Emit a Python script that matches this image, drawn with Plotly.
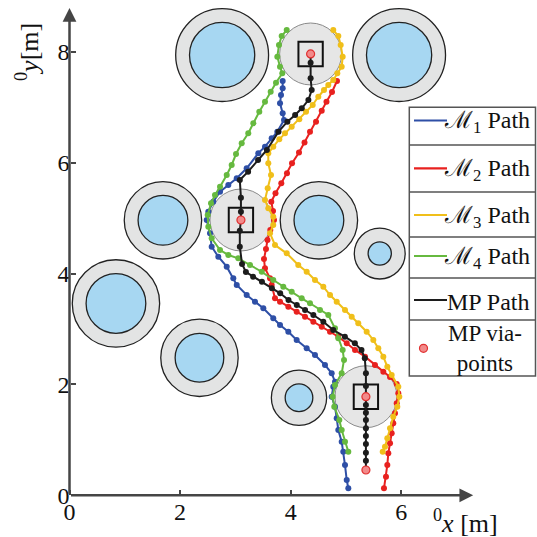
import plotly.graph_objects as go

# ---------------- data (metres) ----------------
obs_x = [2.76, 5.96, 1.69, 4.51, 5.61, 0.84, 2.35, 4.15]
obs_y = [7.94, 7.94, 4.96, 4.96, 4.36, 3.46, 2.48, 1.76]
obs_r_outer = [0.84, 0.84, 0.70, 0.70, 0.46, 0.79, 0.70, 0.50]
obs_r_inner = [0.59, 0.59, 0.45, 0.45, 0.21, 0.54, 0.44, 0.25]

via_x = [5.36, 5.36, 3.10, 4.36]
via_y = [0.456, 1.778, 4.965, 7.959]
via_region_r = 0.56
via_box_half = 0.22
via_boxed = [False, True, True, True]

m1_x = [3.855, 3.855, 3.825, 3.807, 3.855, 3.879, 3.758, 3.656, 3.535, 3.414, 3.204, 3.024, 2.872, 2.722,
        2.600, 2.510, 2.481, 2.541, 2.571, 2.691, 2.843, 2.962, 3.024, 3.204, 3.354, 3.505, 3.685, 3.807,
        3.957, 4.108, 4.289, 4.439, 4.620, 4.741, 4.801, 4.770, 4.741, 4.801, 4.832, 4.861, 4.922, 4.951,
        4.982, 5.013, 5.042]
m1_y = [7.472, 7.340, 7.219, 7.069, 6.889, 6.768, 6.557, 6.438, 6.287, 6.168, 5.897, 5.717, 5.596, 5.475,
        5.295, 5.115, 4.965, 4.725, 4.483, 4.303, 4.123, 3.913, 3.793, 3.612, 3.491, 3.372, 3.192, 3.071,
        2.950, 2.801, 2.651, 2.530, 2.350, 2.200, 2.049, 1.959, 1.778, 1.598, 1.389, 1.178, 0.967, 0.786,
        0.546, 0.276, 0.126]

m2_x = [4.837, 4.747, 4.647, 4.561, 4.458, 4.349, 4.250, 4.150, 4.024, 3.933, 3.830, 3.725, 3.649, 3.680,
        3.698, 3.631, 3.580, 3.553, 3.517, 3.535, 3.626, 3.656, 3.716, 3.807, 3.957, 4.108, 4.259, 4.409,
        4.561, 4.711, 4.861, 5.013, 5.163, 5.344, 5.524, 5.675, 5.796, 5.917, 5.946, 5.917, 5.886, 5.855,
        5.826, 5.796, 5.765, 5.747, 5.723, 5.687]
m2_y = [7.472, 7.273, 7.098, 6.936, 6.738, 6.557, 6.362, 6.182, 5.987, 5.807, 5.627, 5.446, 5.295, 5.127,
        4.965, 4.784, 4.604, 4.442, 4.261, 4.094, 3.913, 3.793, 3.553, 3.491, 3.401, 3.311, 3.221, 3.131,
        3.041, 2.950, 2.860, 2.741, 2.620, 2.500, 2.350, 2.229, 2.133, 2.007, 1.839, 1.659, 1.479, 1.298,
        1.118, 0.938, 0.757, 0.546, 0.335, 0.126]

m3_x = [4.770, 4.861, 4.904, 4.940, 4.922, 4.843, 4.770, 4.680, 4.602, 4.499, 4.398, 4.277, 4.156, 4.018,
        3.897, 3.794, 3.685, 3.595, 3.595, 3.644, 3.584, 3.535, 3.595, 3.685, 3.685, 3.626, 3.716, 3.928,
        4.137, 4.289, 4.439, 4.590, 4.711, 4.832, 4.982, 5.103, 5.222, 5.374, 5.494, 5.584, 5.675, 5.747,
        5.826, 5.946, 5.964, 5.928, 5.855, 5.796, 5.747, 5.705, 5.664]
m3_y = [8.391, 8.283, 8.121, 7.910, 7.730, 7.610, 7.490, 7.399, 7.309, 7.188, 7.039, 6.918, 6.781, 6.647,
        6.528, 6.420, 6.287, 6.168, 5.987, 5.776, 5.537, 5.326, 5.176, 5.024, 4.875, 4.725, 4.514, 4.364,
        4.153, 4.032, 3.883, 3.762, 3.612, 3.491, 3.342, 3.221, 3.102, 2.950, 2.801, 2.651, 2.500, 2.319,
        2.170, 1.959, 1.778, 1.598, 1.417, 1.208, 1.028, 0.876, 0.786]

m4_x = [3.928, 3.837, 3.788, 3.758, 3.807, 3.848, 3.734, 3.638, 3.535, 3.432, 3.324, 3.233, 3.114, 3.011,
        2.933, 2.843, 2.722, 2.631, 2.559, 2.499, 2.510, 2.571, 2.722, 2.872, 3.052, 3.264, 3.476, 3.685,
        3.866, 4.018, 4.199, 4.349, 4.530, 4.680, 4.801, 4.861, 4.940, 4.964, 4.922, 4.801, 4.759, 4.788,
        4.879, 4.922, 4.982, 5.042]
m4_y = [8.391, 8.283, 8.121, 7.910, 7.730, 7.610, 7.441, 7.279, 7.098, 6.918, 6.709, 6.528, 6.348, 6.155,
        5.957, 5.776, 5.565, 5.416, 5.266, 5.055, 4.844, 4.635, 4.424, 4.334, 4.274, 4.153, 4.032, 3.883,
        3.762, 3.672, 3.553, 3.463, 3.342, 3.252, 3.012, 2.831, 2.620, 2.440, 2.200, 1.989, 1.778, 1.598,
        1.358, 1.178, 0.967, 0.786]

mp_x = [5.36, 5.36, 5.36, 5.36, 5.36, 5.36, 5.36, 5.36, 5.36, 5.36, 5.36, 5.36, 5.34, 5.28, 5.16, 4.98,
        4.77, 4.59, 4.41, 4.26, 4.11, 3.96, 3.81, 3.66, 3.48, 3.32, 3.19, 3.12, 3.08, 3.08, 3.10, 3.10,
        3.10, 3.08, 3.23, 3.41, 3.57, 3.78, 3.94, 4.08, 4.20, 4.32, 4.38, 4.36, 4.36, 4.36]
mp_y = [0.456, 0.624, 0.768, 0.925, 1.069, 1.208, 1.358, 1.490, 1.628, 1.778, 1.971, 2.200, 2.471, 2.620,
        2.741, 2.860, 2.981, 3.131, 3.252, 3.342, 3.432, 3.522, 3.643, 3.733, 3.852, 3.942, 4.027, 4.171,
        4.483, 4.772, 4.965, 5.115, 5.367, 5.686, 5.836, 6.047, 6.227, 6.557, 6.738, 6.858, 6.979, 7.129,
        7.309, 7.520, 7.802, 7.959]

x_ticks = [0, 2, 4, 6]
y_ticks = [0, 2, 4, 6, 8]

legend_labels = ["ℳ<sub>1</sub> Path", "ℳ<sub>2</sub> Path", "ℳ<sub>3</sub> Path",
                 "ℳ<sub>4</sub> Path", "MP Path", "MP via-<br>points"]

# ---------------- styling ----------------
W = H = 537
X0_PX, Y0_PX = 69.5, 495.3      # pixel position of the origin
SX, SY = 55.3, 55.45            # pixels per metre
SERIF = "Liberation Serif"
AXIS_COL = "#454545"
C_BLUE, C_RED, C_YEL, C_GRN, C_BLK = "#2e4fa6", "#e8211f", "#f0bf1a", "#66b93f", "#1c1c1c"
C_VIA_FILL, C_VIA_LINE = "#f28a8a", "#e03030"
C_OUT, C_IN = "#e3e4e4", "#a7d7f2"

fig = go.Figure()

def path_trace(xs, ys, color, name):
    return go.Scatter(x=xs, y=ys, mode="lines+markers", name=name,
                      line=dict(color=color, width=2),
                      marker=dict(color=color, size=6), showlegend=False,
                      hoverinfo="skip")

fig.add_trace(path_trace(m1_x, m1_y, C_BLUE, "M1"))
fig.add_trace(path_trace(m2_x, m2_y, C_RED, "M2"))
fig.add_trace(path_trace(m3_x, m3_y, C_YEL, "M3"))
fig.add_trace(path_trace(m4_x, m4_y, C_GRN, "M4"))
fig.add_trace(path_trace(mp_x, mp_y, C_BLK, "MP"))
fig.add_trace(go.Scatter(x=via_x, y=via_y, mode="markers", showlegend=False, hoverinfo="skip",
                         marker=dict(size=8, color=C_VIA_FILL,
                                     line=dict(color=C_VIA_LINE, width=1.2))))

shapes = []
ky = SX / SY  # keep circles round in pixels
for cx, cy, ro, ri in zip(obs_x, obs_y, obs_r_outer, obs_r_inner):
    shapes.append(dict(type="circle", xref="x", yref="y", layer="below",
                       x0=cx - ro, x1=cx + ro, y0=cy - ro * ky, y1=cy + ro * ky,
                       fillcolor=C_OUT, line=dict(color="#222", width=1.3)))
    shapes.append(dict(type="circle", xref="x", yref="y", layer="below",
                       x0=cx - ri, x1=cx + ri, y0=cy - ri * ky, y1=cy + ri * ky,
                       fillcolor=C_IN, line=dict(color="#222", width=1.3)))
for cx, cy, boxed in zip(via_x, via_y, via_boxed):
    if not boxed:
        continue
    r = via_region_r
    shapes.append(dict(type="circle", xref="x", yref="y", layer="below",
                       x0=cx - r, x1=cx + r, y0=cy - r * ky, y1=cy + r * ky,
                       fillcolor="#e6e6e6", line=dict(color="#8a8a8a", width=1)))
    h = via_box_half
    shapes.append(dict(type="rect", xref="x", yref="y", layer="below",
                       x0=cx - h, x1=cx + h, y0=cy - h * ky, y1=cy + h * ky,
                       fillcolor="rgba(0,0,0,0)", line=dict(color="#111", width=2)))

# ---- hand-built legend (pixel layout -> paper coords) ----
def px(x):
    return x / W

def py(y):
    return 1 - y / H

LEG_L, LEG_R = 409.3, 535.5
rows = [107.3, 145, 192, 237, 278, 320, 376]
shapes.append(dict(type="rect", xref="paper", yref="paper",
                   x0=px(LEG_L), x1=px(LEG_R), y0=py(rows[-1]), y1=py(rows[0]),
                   fillcolor="white", line=dict(color="#555", width=1.5), layer="above"))
for yy in rows[1:-1]:
    shapes.append(dict(type="line", xref="paper", yref="paper",
                       x0=px(LEG_L), x1=px(LEG_R), y0=py(yy), y1=py(yy),
                       line=dict(color="#555", width=1.5), layer="above"))
line_y = [120.5, 168.3, 215, 256, 300]
leg_cols = [C_BLUE, C_RED, C_YEL, C_GRN, C_BLK]
for yy, c in zip(line_y, leg_cols):
    shapes.append(dict(type="line", xref="paper", yref="paper",
                       x0=px(414), x1=px(447), y0=py(yy), y1=py(yy),
                       line=dict(color=c, width=2.2), layer="above"))
shapes.append(dict(type="circle", xref="paper", yref="paper", layer="above",
                   x0=px(419.5), x1=px(427.5), y0=py(352.3), y1=py(344.3),
                   fillcolor=C_VIA_FILL, line=dict(color=C_VIA_LINE, width=1.2)))

annotations = []
for i, (lab, yy) in enumerate(zip(legend_labels[:5], line_y)):
    annotations.append(dict(xref="paper", yref="paper", x=px(442 if i < 4 else 445), y=py(yy + 2),
                            xanchor="left", yanchor="middle", text=lab, showarrow=False,
                            font=dict(family=SERIF, size=24, color="#111")))
annotations.append(dict(xref="paper", yref="paper", x=px(485), y=py(348),
                        xanchor="center", yanchor="middle", text=legend_labels[5],
                        showarrow=False, align="center",
                        font=dict(family=SERIF, size=23, color="#111")))

# axis lines with arrow heads
annotations.append(dict(x=7.30, y=0, ax=0, ay=0, xref="x", yref="y", axref="x", ayref="y",
                        text="", showarrow=True, arrowhead=2, arrowsize=1.1,
                        arrowwidth=2.5, arrowcolor=AXIS_COL, standoff=0, startstandoff=0))
annotations.append(dict(x=0, y=8.79, ax=0, ay=0, xref="x", yref="y", axref="x", ayref="y",
                        text="", showarrow=True, arrowhead=2, arrowsize=1.1,
                        arrowwidth=2.5, arrowcolor=AXIS_COL, standoff=0, startstandoff=0))
# axis titles
annotations.append(dict(xref="paper", yref="paper", x=px(465), y=py(521),
                        text="<sup>0</sup><i>x</i> [m]", showarrow=False,
                        xanchor="center", yanchor="middle",
                        font=dict(family=SERIF, size=26, color="#111")))
annotations.append(dict(xref="paper", yref="paper", x=px(27), y=py(52),
                        text="<sup>0</sup><i>y</i>[m]", showarrow=False, textangle=-90,
                        xanchor="center", yanchor="middle",
                        font=dict(family=SERIF, size=26, color="#111")))

fig.update_layout(
    width=W, height=H, margin=dict(l=0, r=0, t=0, b=0),
    paper_bgcolor="white", plot_bgcolor="white",
    font=dict(family=SERIF),
    shapes=shapes, annotations=annotations, showlegend=False,
    xaxis=dict(range=[-X0_PX / SX, (W - X0_PX) / SX], domain=[0, 1],
               anchor="free", position=(H - Y0_PX) / H,
               tickvals=x_ticks, ticks="inside", ticklen=5, tickwidth=1.5, tickcolor=AXIS_COL,
               showline=False, showgrid=False, zeroline=False, automargin=False,
               tickfont=dict(family=SERIF, size=24, color="#111")),
    yaxis=dict(range=[-(H - Y0_PX) / SY, Y0_PX / SY], domain=[0, 1],
               anchor="free", position=X0_PX / W,
               tickvals=y_ticks, ticks="inside", ticklen=5, tickwidth=1.5, tickcolor=AXIS_COL,
               showline=False, showgrid=False, zeroline=False, automargin=False,
               tickfont=dict(family=SERIF, size=24, color="#111")),
)

fig.write_html("out.html", config={"displayModeBar": False},
               post_script="document.body.style.margin='0';document.body.style.padding='0';")
